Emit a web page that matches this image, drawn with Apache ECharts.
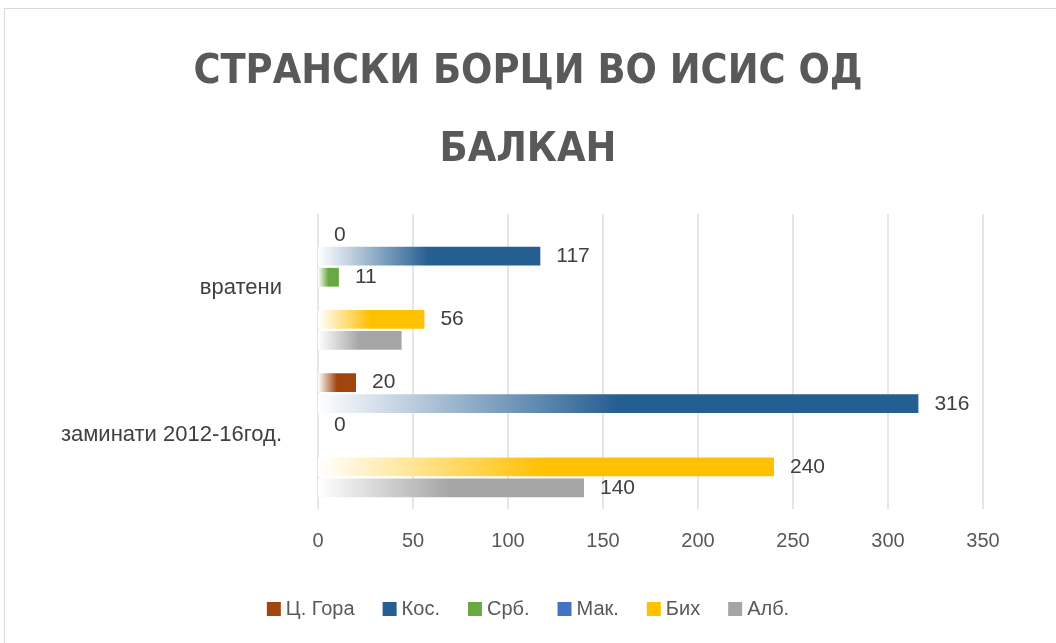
<!DOCTYPE html>
<html>
<head>
<meta charset="utf-8">
<script src="https://cdn.jsdelivr.net/npm/echarts@6/dist/echarts.min.js"></script>
<style>
html,body{margin:0;padding:0;background:#fff;}
#frame{position:absolute;left:4px;top:8px;width:1060px;height:640px;border:1px solid #d9d9d9;box-sizing:border-box;}
#chart{position:absolute;left:0;top:0;width:1056px;height:643px;}
</style>
</head>
<body>
<div id="frame"></div>
<div id="chart"></div>
<script>
const titleLines = ['СТРАНСКИ БОРЦИ ВО ИСИС ОД', 'БАЛКАН'];
const categories = ['вратени', 'заминати 2012-16год.'];
const seriesNames = ['Ц. Гора', 'Кос.', 'Срб.', 'Мак.', 'Бих', 'Алб.'];
const cGora = [0, 20];
const kos = [117, 316];
const srb = [11, 0];
const mak = [0, 0];
const bih = [56, 240];
const alb = [44, 140];
const labelShown = [[true, true], [true, true], [true, true], [false, false], [true, true], [false, true]];
const xTicks = [0, 50, 100, 150, 200, 250, 300, 350];

const colors = ['#A0450E', '#255E91', '#6AA842', '#4472C4', '#FFC000', '#A5A5A5'];
const values = [cGora, kos, srb, mak, bih, alb];

function grad(c) {
  return new echarts.graphic.LinearGradient(0, 0, 1, 0, [
    {offset: 0, color: '#ffffff'},
    {offset: 0.5, color: c},
    {offset: 1, color: c}
  ]);
}

const chart = echarts.init(document.getElementById('chart'), null, {renderer: 'canvas'});
const font = '"Liberation Sans", Arial, sans-serif';
chart.setOption({
  animation: false,
  color: colors,
  title: {
    text: titleLines.join('\n'),
    left: 'center',
    top: 28,
    textStyle: {
      fontFamily: '"Liberation Sans Narrow", "DejaVu Sans Condensed", sans-serif',
      fontWeight: 'bold',
      fontSize: 41,
      lineHeight: 78,
      color: '#595959'
    }
  },
  legend: {
    top: 594,
    left: 'center',
    itemWidth: 14,
    itemHeight: 14,
    itemGap: 28,
    icon: 'rect',
    textStyle: {fontFamily: font, fontSize: 20, color: '#595959'},
    data: seriesNames.map((n, i) => ({name: n, itemStyle: {color: colors[i]}}))
  },
  grid: {left: 318, right: 73, top: 214, bottom: 134, containLabel: false},
  xAxis: {
    type: 'value',
    min: xTicks[0],
    max: xTicks[xTicks.length - 1],
    interval: 50,
    axisLine: {show: false},
    axisTick: {show: false},
    splitLine: {lineStyle: {color: '#e6e6e6', width: 2}},
    axisLabel: {fontFamily: font, fontSize: 20, color: '#595959', margin: 22}
  },
  yAxis: {
    type: 'category',
    inverse: true,
    data: categories,
    axisLine: {show: false},
    axisTick: {show: false},
    axisLabel: {fontFamily: font, fontSize: 22, color: '#404040', margin: 36}
  },
  series: seriesNames.map((name, i) => ({
    name: name,
    type: 'bar',
    barGap: '12%',
    barCategoryGap: '16%',
    itemStyle: {color: grad(colors[i])},
    label: {show: true, position: 'right', distance: 16, fontFamily: font, fontSize: 21, color: '#404040'},
    data: values[i].map((v, j) => ({value: v, label: {show: labelShown[i][j]}}))
  }))
});
</script>
</body>
</html>
